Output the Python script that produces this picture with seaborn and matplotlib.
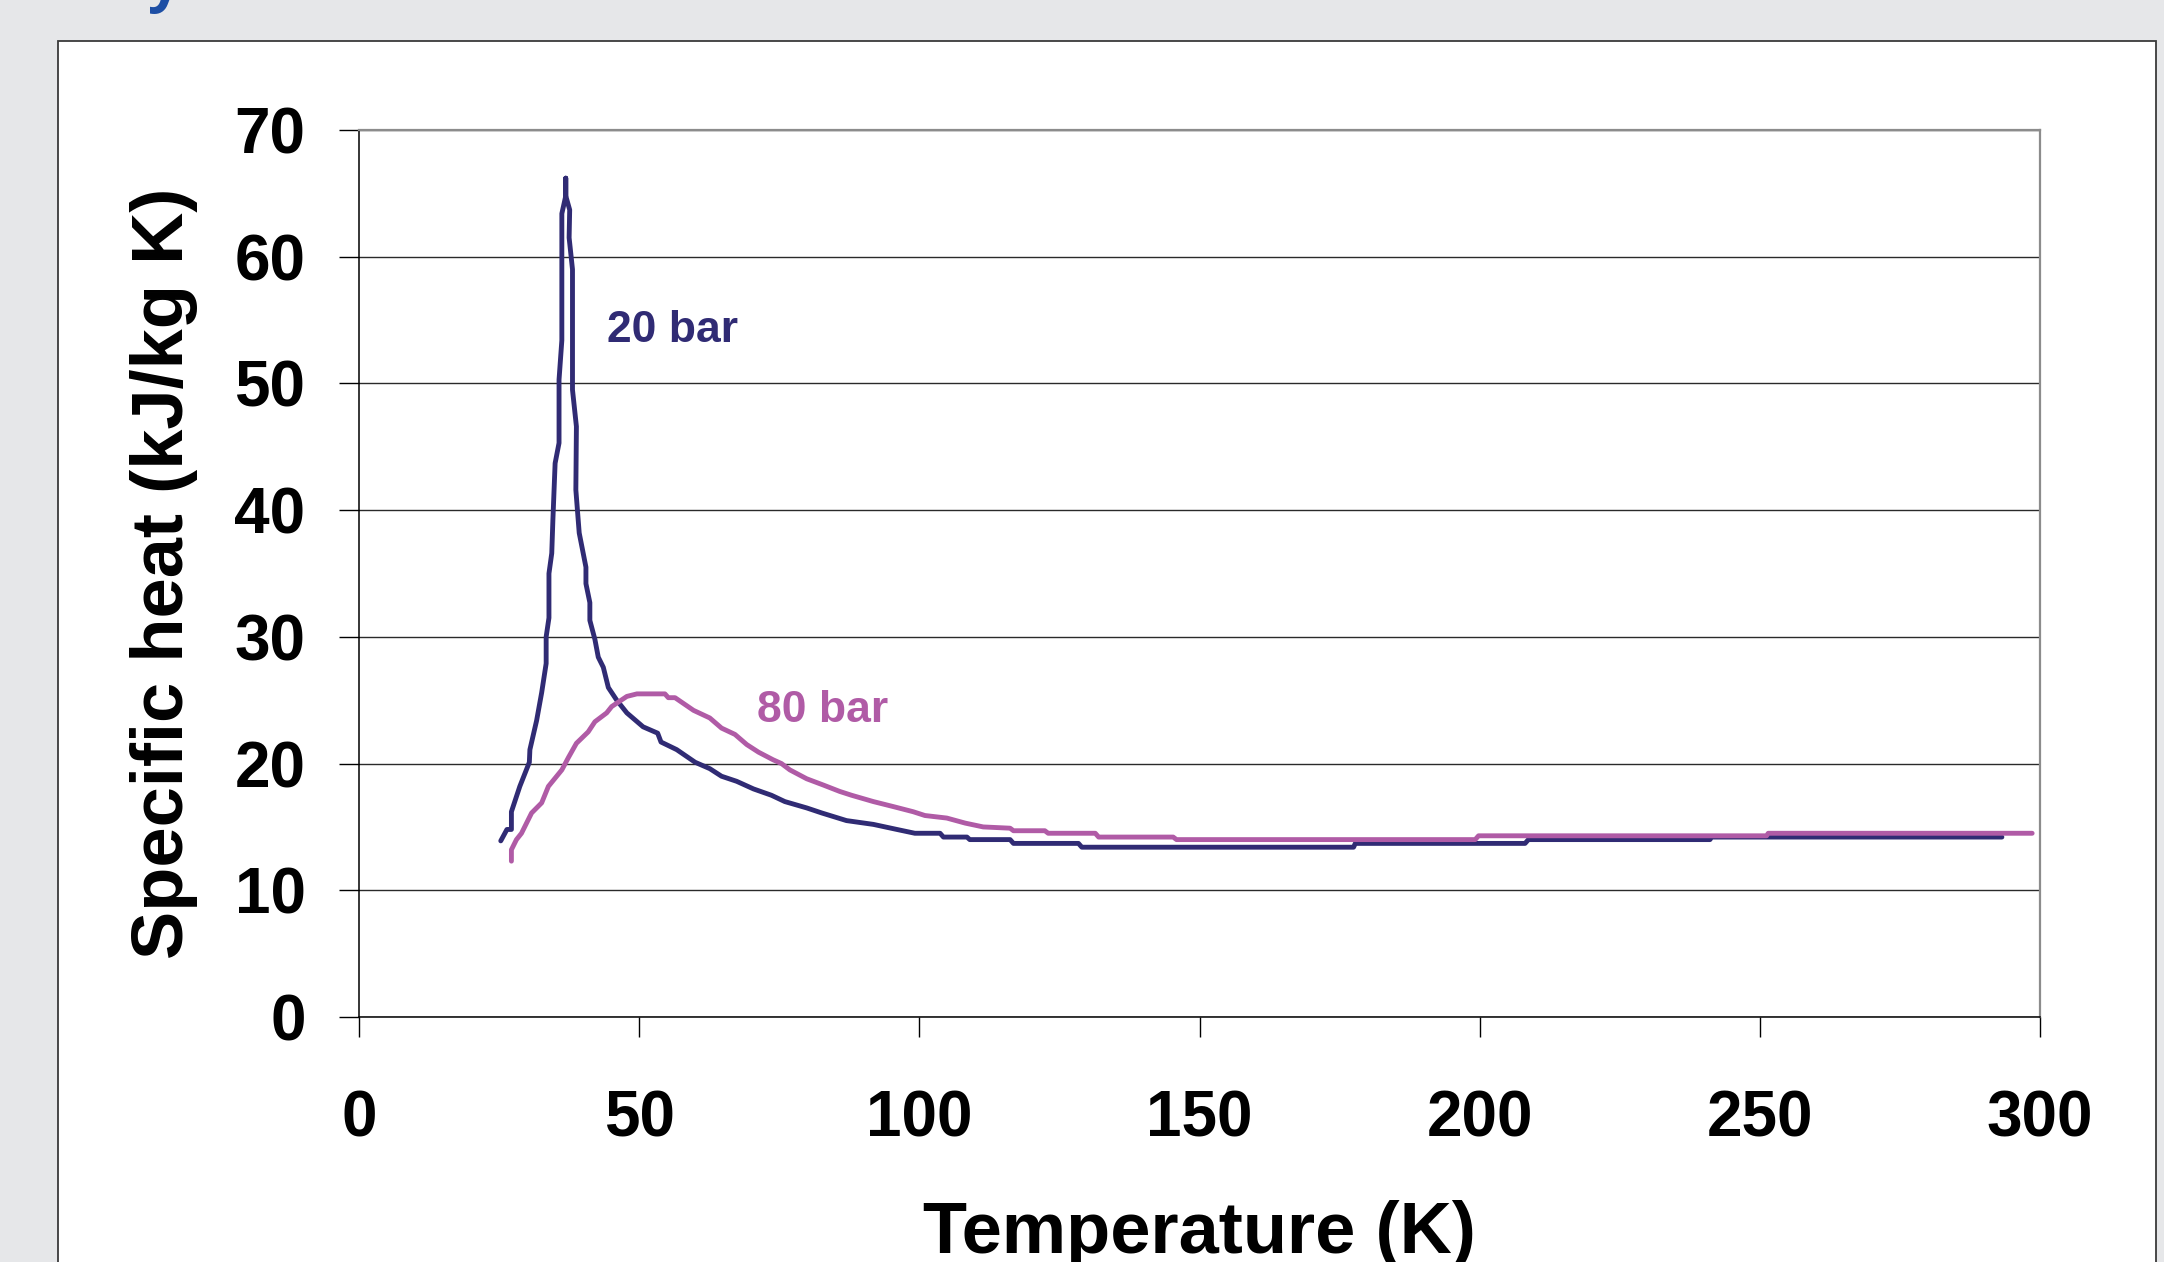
import matplotlib
matplotlib.use('Agg')
import matplotlib.pyplot as plt
from matplotlib.patches import Rectangle
import seaborn as sns

# specific heat of hydrogen
temp_20bar = [25.3, 26.4, 27.2, 27.2, 28.7, 30.4, 30.5, 31.7, 32.6, 33.4, 33.4, 33.9,
              33.9, 34.4, 34.6, 35.0, 35.7, 35.7, 36.2, 36.2, 36.9, 36.9, 36.9, 37.6,
              37.5, 38.1, 38.1, 38.8, 38.7, 39.3, 40.5, 40.5, 41.2, 41.2, 42.1, 42.7,
              43.6, 44.5, 46.0, 47.8, 50.7, 53.3, 53.9, 56.7, 60.0, 62.6, 64.7, 67.4,
              70.4, 73.6, 76.0, 79.9, 82.6, 87.0, 91.8, 96.0, 99.2, 103.7, 104.3, 108.5,
              109.0, 116.2, 116.8, 128.4, 129.0, 177.5, 177.8, 208.1, 208.7, 241.1, 241.4,
              293.2]
cp_20bar = [13.9, 14.8, 14.8, 16.2, 18.2, 20.1, 21.1, 23.4, 25.6, 27.9, 30.0, 31.5,
            35.0, 36.6, 39.2, 43.7, 45.3, 50.3, 53.4, 63.4, 64.8, 66.2, 64.8, 63.7,
            61.5, 59.0, 49.5, 46.6, 41.6, 38.2, 35.5, 34.2, 32.7, 31.3, 29.8, 28.4,
            27.6, 26.0, 25.0, 24.0, 22.9, 22.4, 21.7, 21.1, 20.1, 19.6, 19.0, 18.6,
            18.0, 17.5, 17.0, 16.5, 16.1, 15.5, 15.2, 14.8, 14.5, 14.5, 14.2, 14.2,
            14.0, 14.0, 13.7, 13.7, 13.4, 13.4, 13.7, 13.7, 14.0, 14.0, 14.2,
            14.2]

temp_80bar = [27.2, 27.2, 28.1, 29.0, 30.8, 32.6, 33.8, 36.2, 37.4, 38.8, 40.9, 42.1,
              44.2, 45.1, 47.8, 49.6, 54.6, 55.2, 56.4, 59.7, 62.6, 64.7, 67.1, 69.2,
              71.3, 73.9, 75.4, 76.9, 79.9, 82.9, 85.8, 87.9, 91.8, 95.4, 98.9, 101.0,
              104.9, 108.2, 111.4, 116.2, 116.8, 122.4, 123.0, 131.4, 132.0, 145.3, 145.9,
              199.2, 199.8, 251.2, 251.5, 298.6]
cp_80bar = [12.3, 13.2, 14.0, 14.5, 16.1, 16.9, 18.2, 19.5, 20.5, 21.6, 22.5, 23.3,
            24.0, 24.5, 25.3, 25.5, 25.5, 25.2, 25.2, 24.2, 23.6, 22.8, 22.3, 21.5,
            20.9, 20.3, 20.0, 19.5, 18.8, 18.3, 17.8, 17.5, 17.0, 16.6, 16.2, 15.9,
            15.7, 15.3, 15.0, 14.9, 14.7, 14.7, 14.5, 14.5, 14.2, 14.2, 14.0,
            14.0, 14.3, 14.3, 14.5, 14.5]

x_ticks = [0, 50, 100, 150, 200, 250, 300]
y_ticks = [0, 10, 20, 30, 40, 50, 60, 70]

navy = '#302b74'
magenta = '#b05ba6'
W, H = 2164, 1262

sns.set_theme(style='white')
plt.rcParams['font.family'] = ['Liberation Sans', 'DejaVu Sans']
plt.rcParams['font.weight'] = 'bold'

fig = plt.figure(figsize=(W / 100, H / 100), dpi=100, facecolor='#e6e7e9')

# white panel behind the chart, running off the bottom of the picture
fig.patches.append(Rectangle((58 / W, -0.1), (2156 - 58) / W, 0.1 + (H - 41) / H,
                             transform=fig.transFigure, facecolor='white',
                             edgecolor='#3a3a3a', lw=1.3, zorder=-5))
# cut-off heading above the panel
fig.text(148 / W, 1.0, 'y', color='#1d4fa5', fontsize=42, fontweight='bold',
         family=['Open Sans', 'DejaVu Sans'], ha='left', va='baseline')

ax = fig.add_axes([359 / W, (H - 1017) / H, 1681 / W, 887 / H])
ax.set_facecolor('white')

sns.lineplot(x=temp_20bar, y=cp_20bar, sort=False, estimator=None, color=navy, lw=3.5, ax=ax)
sns.lineplot(x=temp_80bar, y=cp_80bar, sort=False, estimator=None, color=magenta, lw=3.5, ax=ax)

ax.set_xlim(0, 300)
ax.set_ylim(0, 70)
ax.set_xticks(x_ticks)
ax.set_yticks(y_ticks)
ax.yaxis.grid(True, color='#2a2a2a', lw=1.0)
ax.xaxis.grid(False)
ax.set_axisbelow(True)

for side in ['left', 'bottom']:
    ax.spines[side].set_color('black')
    ax.spines[side].set_linewidth(1.1)
for side in ['top', 'right']:
    ax.spines[side].set_color('#8c8c8c')
    ax.spines[side].set_linewidth(1.6)

ax.tick_params(axis='both', bottom=True, left=True, direction='out', length=14.5,
               width=1.0, color='black', labelsize=46, labelcolor='black')
ax.tick_params(axis='x', pad=38)
ax.tick_params(axis='y', pad=24)

ax.set_xlabel('Temperature (K)', fontsize=52, fontweight='bold', color='black', labelpad=36)
ax.set_ylabel('Specific heat (kJ/kg K)', fontsize=52, fontweight='bold', color='black', labelpad=26)

ax.text(44.3, 53.3, '20 bar', color=navy, fontsize=32, fontweight='bold', ha='left', va='baseline')
ax.text(71.0, 23.3, '80 bar', color=magenta, fontsize=32, fontweight='bold', ha='left', va='baseline')

fig.savefig('out.png', dpi=100, facecolor=fig.get_facecolor())
